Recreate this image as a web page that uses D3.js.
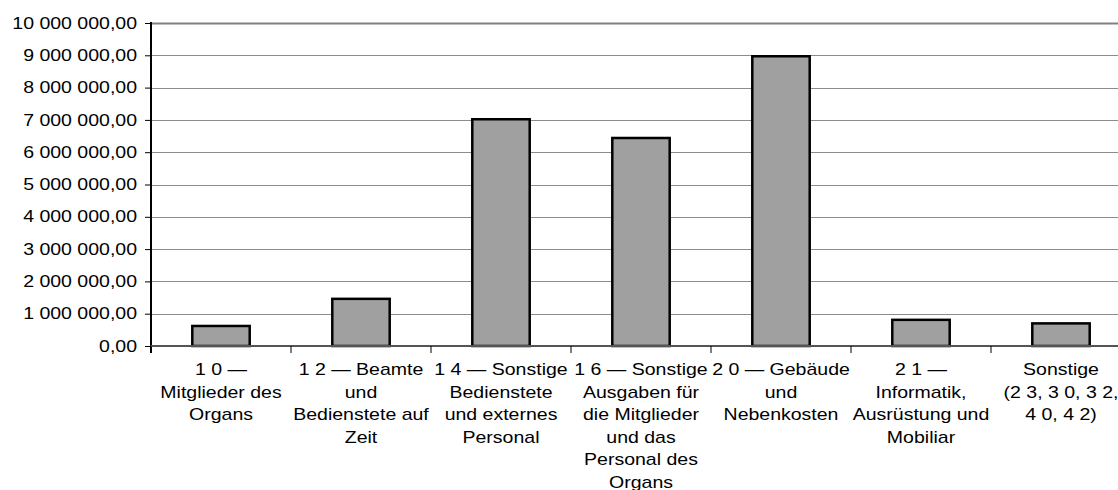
<!DOCTYPE html>
<html><head><meta charset="utf-8">
<script src="https://cdn.jsdelivr.net/npm/d3@7"></script>
<style>html,body{margin:0;padding:0;background:#fff;}svg{display:block;}</style>
</head><body>
<svg id="c" width="1118" height="490"></svg>
<script>
const categories = [
  "1 0 —\nMitglieder des\nOrgans",
  "1 2 — Beamte\nund\nBedienstete auf\nZeit",
  "1 4 — Sonstige\nBedienstete\nund externes\nPersonal",
  "1 6 — Sonstige\nAusgaben für\ndie Mitglieder\nund das\nPersonal des\nOrgans",
  "2 0 — Gebäude\nund\nNebenkosten",
  "2 1 —\nInformatik,\nAusrüstung und\nMobiliar",
  "Sonstige\n(2 3, 3 0, 3 2,\n4 0, 4 2)"
];
const values = [620000, 1460000, 7020000, 6440000, 8970000, 810000, 700000];
const yTicks = [0,1000000,2000000,3000000,4000000,5000000,6000000,7000000,8000000,9000000,10000000];

const svg = d3.select("#c");
const L = 151, R = 1131, T = 23, B = 346;
const font = "'Liberation Sans', Arial, sans-serif";
const SX = 1.22;

const x = d3.scaleBand().domain(categories).range([L, R]).paddingInner(0.59).paddingOuter(0.295);
const y = d3.scaleLinear().domain([0, 10000000]).range([B, T]);

function fmt(v){
  const s = d3.format(",.2f")(v);
  return s.replace(/,/g, " ").replace(".", ",");
}

// gridlines
svg.append("g").selectAll("line").data(yTicks.filter(d=>d>0)).join("line")
  .attr("x1", L).attr("x2", R)
  .attr("y1", d=>Math.round(y(d))+0.5).attr("y2", d=>Math.round(y(d))+0.5)
  .attr("stroke", d=>d===10000000?"#808080":"#8c8c8c")
  .attr("stroke-width", d=>d===10000000?2:1);

// bars
svg.append("g").selectAll("rect").data(values).join("rect")
  .attr("x", (d,i)=>x(categories[i]))
  .attr("width", x.bandwidth())
  .attr("y", d=>y(d))
  .attr("height", d=>B - y(d))
  .attr("fill", "#a0a0a0")
  .attr("stroke", "#000")
  .attr("stroke-width", 2.5);

// y axis
const yAxis = d3.axisLeft(y).tickValues(yTicks).tickSize(6).tickPadding(8).tickFormat(fmt);
const ya = svg.append("g").attr("transform", `translate(${L},0)`).call(yAxis);
ya.select(".domain").attr("stroke", "#000").attr("stroke-width", 2).attr("d", `M0,${T-1}V${B+7}`);
ya.selectAll(".tick line").attr("stroke", "#000").attr("stroke-width", 1);
ya.selectAll(".tick text").attr("font-family", font).attr("font-size", 16).attr("fill", "#000")
  .attr("x", -14/SX).attr("transform", `scale(${SX},1)`);

// x axis baseline and ticks
const xa = svg.append("g").attr("transform", `translate(0,${B})`);
xa.append("line").attr("x1", L).attr("x2", R).attr("y1", 0).attr("y2", 0).attr("stroke", "#555").attr("stroke-width", 2);
const bounds = d3.range(categories.length + 1).map(i => L + i * x.step());
xa.selectAll("line.tk").data(bounds).join("line").attr("class","tk")
  .attr("x1", d=>d).attr("x2", d=>d).attr("y1", 0).attr("y2", 7)
  .attr("stroke", "#000").attr("stroke-width", 1);

// x labels
const lbl = svg.append("g").selectAll("text").data(categories).join("text")
  .attr("font-family", font).attr("font-size", 16).attr("fill", "#000")
  .attr("text-anchor", "middle")
  .attr("transform", d=>`translate(${x(d)+x.bandwidth()/2},${B+29}) scale(${SX},1)`);
lbl.each(function(d){
  const t = d3.select(this);
  d.split("\n").forEach((line,i)=>{
    t.append("tspan").attr("x", 0).attr("y", i*22.6).text(line);
  });
});
</script>
</body></html>
